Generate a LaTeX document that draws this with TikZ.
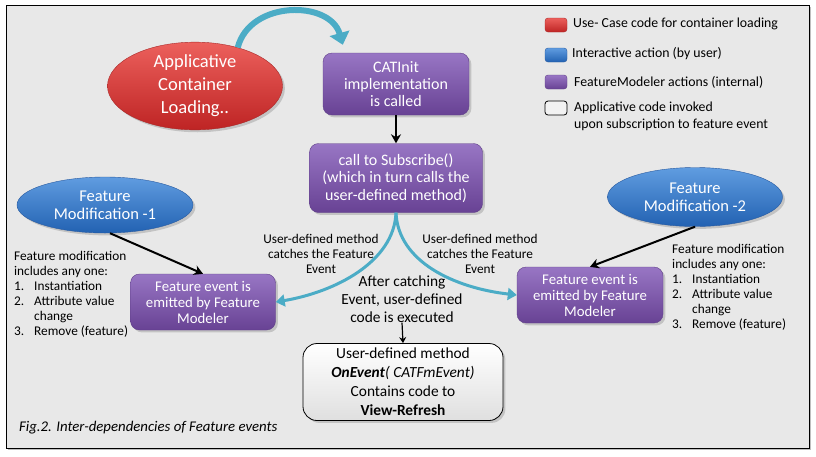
\documentclass[tikz,border=0pt]{standalone}
\usepackage{fontspec}
\setmainfont{Carlito}
\usetikzlibrary{shapes.geometric,arrows.meta,shadows}

\definecolor{bgGray}{RGB}{232,232,232}
\definecolor{fmPurpleTop}{RGB}{152,118,196}
\definecolor{fmPurpleBot}{RGB}{104,66,148}
\definecolor{fmPurpleLine}{RGB}{96,64,136}
\definecolor{fmRedTop}{RGB}{236,96,92}
\definecolor{fmRedBot}{RGB}{190,36,36}
\definecolor{fmRedLine}{RGB}{170,40,40}
\definecolor{fmBlueTop}{RGB}{96,156,224}
\definecolor{fmBlueBot}{RGB}{34,98,178}
\definecolor{fmBlueLine}{RGB}{40,90,160}
\definecolor{fmTeal}{RGB}{75,172,198}

\begin{document}
\begin{tikzpicture}[x=1pt, y=-1pt,
        purplebox/.style={rectangle, rounded corners=9pt, draw=fmPurpleLine, top color=fmPurpleTop, bottom color=fmPurpleBot, text=white, align=center, inner sep=2pt, drop shadow={opacity=0.35}},
        whitebox/.style={rectangle, rounded corners=14pt, draw=black, thick, top color=white, bottom color=gray!25, align=center, inner sep=2pt, drop shadow={opacity=0.35}},
        redoval/.style={ellipse, draw=fmRedLine, top color=fmRedTop, bottom color=fmRedBot, text=white, align=center, inner sep=0pt, drop shadow={opacity=0.35}},
        blueoval/.style={ellipse, draw=fmBlueLine, top color=fmBlueTop, bottom color=fmBlueBot, text=white, align=center, inner sep=0pt, drop shadow={opacity=0.35}},
        swatch/.style={rectangle, rounded corners=3pt, minimum width=22pt, minimum height=14pt, inner sep=0pt},
        note/.style={align=center, inner sep=0pt, font=\fontsize{13.3}{15}\selectfont},
        keytext/.style={anchor=west, inner sep=0pt, font=\fontsize{13.8}{17}\selectfont},
        blackarrow/.style={draw=black, line width=2pt, -{Stealth[length=9pt,width=10pt]}},
        tealarrow/.style={draw=fmTeal, line width=3pt, -{Triangle[length=9pt,width=12pt]}},
    ]
        \useasboundingbox (0,0) rectangle (816,456);
        \draw[black, line width=0.8pt, fill=bgGray, drop shadow={opacity=0.5, shadow xshift=2pt, shadow yshift=-2pt}] (6,5) rectangle (809,448);

        %Nodes
        \node[redoval, minimum width=175pt, minimum height=79pt, font=\fontsize{18.5}{23}\selectfont] (loading) at (195,86) {Applicative\\Container\\Loading..};

        \node[purplebox, minimum width=146pt, minimum height=62pt, font=\fontsize{16}{17}\selectfont] (catinit) at (396,84) {CATInit\\implementation\\is called};
        \node[purplebox, minimum width=173pt, minimum height=69pt, font=\fontsize{16}{17.5}\selectfont] (subscribe) at (396,178) {call to Subscribe()\\(which in turn calls the\\user-defined method)};

        \node[blueoval, minimum width=176pt, minimum height=56pt, font=\fontsize{16.5}{18}\selectfont] (modif1) at (105,205) {Feature\\Modification -1};
        \node[blueoval, minimum width=175pt, minimum height=59pt, font=\fontsize{16.5}{18}\selectfont] (modif2) at (695,197) {Feature\\Modification -2};

        \node[purplebox, minimum width=145pt, minimum height=56pt, font=\fontsize{14.8}{16}\selectfont] (emit1) at (203,302) {Feature event is\\emitted by Feature\\Modeler};
        \node[purplebox, minimum width=146pt, minimum height=56pt, font=\fontsize{14.8}{16}\selectfont] (emit2) at (590,295) {Feature event is\\emitted by Feature\\Modeler};

        \node[note] (catch1) at (321,254) {User-defined method\\catches the Feature\\Event};
        \node[note] (catch2) at (480,254) {User-defined method\\catches the Feature\\Event};
        \node[align=center, inner sep=0pt, font=\fontsize{15.4}{18}\selectfont] (after) at (402,299) {After catching\\Event, user-defined\\code is executed};

        \node[whitebox, minimum width=200pt, minimum height=77pt, font=\fontsize{15.4}{19}\selectfont] (onevent) at (403,382) {User-defined method\\\textbf{\textit{OnEvent}}\textit{( CATFmEvent)}\\Contains code to\\\textbf{View-Refresh}};

        \node[note, align=left, anchor=north west] (list1) at (14,251) {Feature modification\\includes any one:\\\makebox[20pt][l]{1.}Instantiation\\\makebox[20pt][l]{2.}Attribute value\\\hspace*{20pt}change\\\makebox[20pt][l]{3.}Remove (feature)};
        \node[note, align=left, anchor=north west] (list2) at (672,244) {Feature modification\\includes any one:\\\makebox[20pt][l]{1.}Instantiation\\\makebox[20pt][l]{2.}Attribute value\\\hspace*{20pt}change\\\makebox[20pt][l]{3.}Remove (feature)};

        \node[anchor=west, inner sep=0pt, font=\fontsize{14.8}{16}\selectfont\itshape] (caption) at (19,428) {Fig.2. Inter-dependencies of Feature events};

        %Legend
        \node[swatch, draw=fmRedLine, top color=fmRedTop, bottom color=fmRedBot] (keyRed) at (556,25) {};
        \node[swatch, draw=fmBlueLine, top color=fmBlueTop, bottom color=fmBlueBot] (keyBlue) at (556,55) {};
        \node[swatch, draw=fmPurpleLine, top color=fmPurpleTop, bottom color=fmPurpleBot] (keyPurple) at (556,82) {};
        \node[swatch, draw=black, thick, fill=gray!10] (keyWhite) at (556,108) {};
        \node[keytext] (textRed) at (573,24) {Use- Case code for container loading};
        \node[keytext] (textBlue) at (572,54) {Interactive action (by user)};
        \node[keytext] (textPurple) at (574,82) {FeatureModeler actions (internal)};
        \node[keytext, align=left] (textWhite) at (574,116) {Applicative code invoked\\upon subscription to feature event};

        %Lines
        \draw[draw=fmTeal, line width=6pt, -{Triangle[length=12pt,width=20pt]}] (loading.42) .. controls (250,0) and (330,0) .. ([xshift=20pt,yshift=8pt]catinit.north west);
        \draw[blackarrow] (catinit) -- (subscribe);

        \draw[tealarrow] (subscribe.south) .. controls (394,262) and (335,292) .. (emit1.east);
        \draw[tealarrow] (subscribe.south) .. controls (398,262) and (455,288) .. (emit2.west);

        \draw[blackarrow] (modif1.south) ++(5,0) coordinate (m1) (m1) -- (emit1.north);
        \draw[blackarrow] (modif2.south) -- (emit2.north);

        \draw[draw=black, line width=1.2pt, -{Stealth[length=6pt,width=7pt]}] (after.south) -- (onevent.north);
    \end{tikzpicture}
\end{document}
